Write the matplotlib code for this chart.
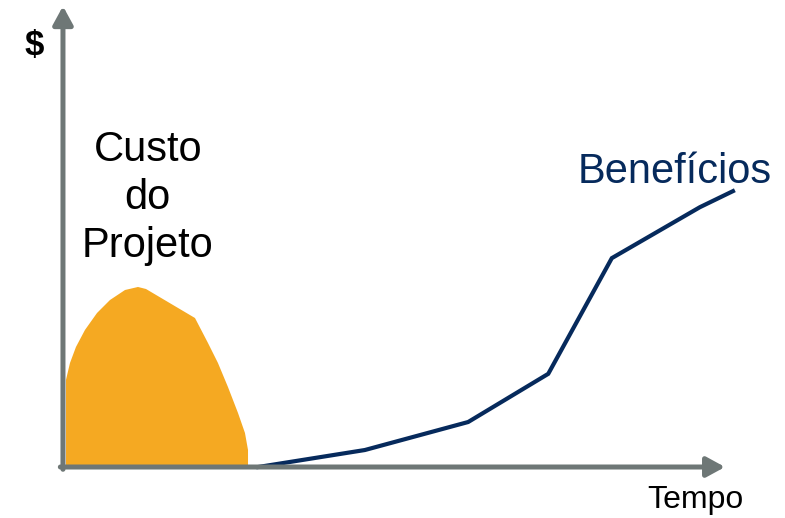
import matplotlib.pyplot as plt
from matplotlib.patches import ArrowStyle

plt.rcParams['font.family'] = ['Liberation Sans', 'DejaVu Sans']

# custo do projeto (contorno da area laranja)
cost_x = [0.45, 0.45, 1.06, 1.96, 3.32, 5.14, 7.10, 9.37, 11.33, 12.54,
          19.94, 21.90, 23.41, 24.92, 26.44, 27.49, 27.95, 27.95]
cost_y = [0, 18.95, 22.66, 26.14, 29.85, 33.55, 36.38, 38.56, 39.22, 38.78,
          32.46, 27.02, 22.66, 17.43, 11.76, 7.41, 3.70, 0]

# beneficios ao longo do tempo
benefit_x = [29.5, 45.6, 61.2, 73.3, 82.9, 96.2, 101.2]
benefit_y = [0, 3.7, 9.8, 20.3, 45.5, 56.6, 60.1]

axis_color = '#6e7776'
orange = '#f5a922'
navy = '#062a5c'

fig = plt.figure(figsize=(7.85, 5.18), dpi=100, facecolor='white')
ax = fig.add_axes([11 / 785, 0, 774 / 785, 1])
ax.set_facecolor('#f2f2f2')
ax.set_xlim(-7.85, 109.06)
ax.set_ylim(-11.11, 101.74)
ax.axis('off')
ax.patch.set_visible(True)

ax.fill(cost_x, cost_y, color=orange, lw=0, zorder=2)
ax.plot(benefit_x, benefit_y, color=navy, lw=3.0, solid_joinstyle='miter', zorder=3)

head = ArrowStyle('-|>', head_length=0.55, head_width=0.3)
for tip, start in [((100, 0), (-0.4, 0)), ((0, 100.4), (0, -0.5))]:
    ax.annotate('', xy=tip, xytext=start,
                arrowprops=dict(arrowstyle=head, color=axis_color, lw=3.6,
                                shrinkA=0, shrinkB=0, mutation_scale=20),
                zorder=4)

ax.text(-4.4, 91.9, '$', fontsize=25, fontweight='bold', ha='center', va='center')
ax.text(12.8, 58.6, 'Custo\ndo\nProjeto', fontsize=30, ha='center', va='center',
        linespacing=1.27)
ax.text(92.4, 64.2, 'Benefícios', fontsize=30, color=navy, ha='center', va='center')
ax.text(95.5, -7.2, 'Tempo', fontsize=23, ha='center', va='center')

fig.savefig('out.png', dpi=100, facecolor=fig.get_facecolor())
